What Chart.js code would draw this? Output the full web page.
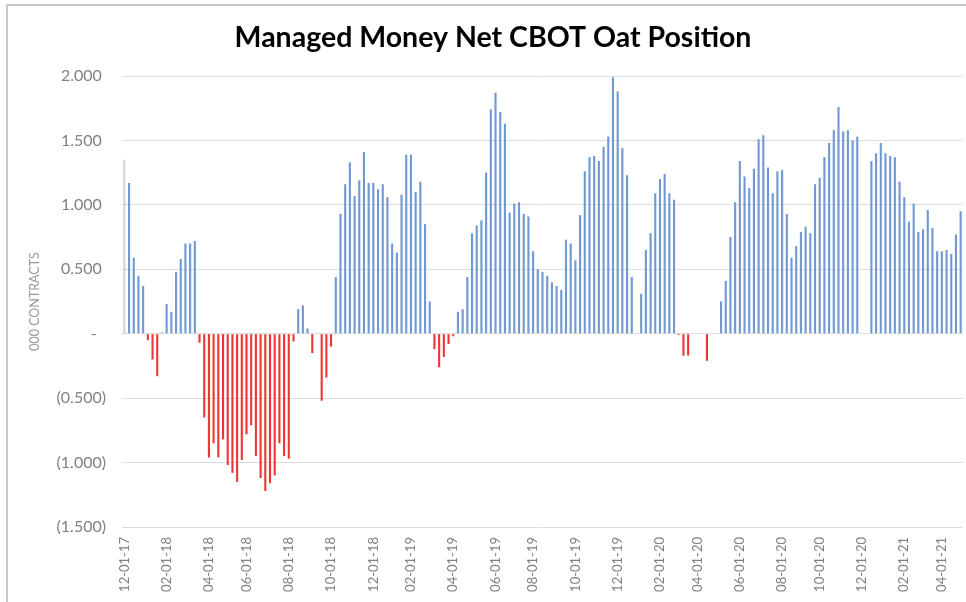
<!DOCTYPE html>
<html>
<head>
<meta charset="utf-8">
<title>Managed Money Net CBOT Oat Position</title>
<script src="https://cdn.jsdelivr.net/npm/chart.js@4/dist/chart.umd.min.js"></script>
<style>
  html, body { margin: 0; padding: 0; background: #fff; overflow: hidden; }
  #frame { position: absolute; left: 6px; top: 4px; width: 1000px; height: 700px; border: 2px solid #c8c8c8; box-sizing: border-box; }
  #wrap { position: absolute; left: 0; top: 0; width: 966px; height: 602px; }
</style>
</head>
<body>
<div id="frame"></div>
<div id="wrap"><canvas id="oatChart"></canvas></div>
<script>
// weekly COT report, net managed money position (000 contracts)
const firstWeek = new Date(2017, 10, 28);

const netPosition = [
  1.35, 1.17, 0.59, 0.45, 0.37, -0.05, -0.20, -0.33, 0.01, 0.23,
  0.17, 0.48, 0.58, 0.70, 0.70, 0.72, -0.07, -0.65, -0.96, -0.85,
  -0.96, -0.82, -1.02, -1.08, -1.15, -0.98, -0.78, -0.71, -0.95, -1.12,
  -1.22, -1.16, -1.10, -0.85, -0.95, -0.97, -0.06, 0.19, 0.22, 0.04,
  -0.15, null, -0.52, -0.34, -0.10, 0.44, 0.93, 1.16, 1.33, 1.07,
  1.19, 1.41, 1.17, 1.17, 1.12, 1.16, 1.06, 0.70, 0.63, 1.08,
  1.39, 1.39, 1.10, 1.18, 0.85, 0.25, -0.12, -0.26, -0.18, -0.08,
  -0.02, 0.17, 0.19, 0.44, 0.78, 0.84, 0.88, 1.25, 1.74, 1.87,
  1.72, 1.63, 0.94, 1.01, 1.02, 0.93, 0.91, 0.64, 0.50, 0.48,
  0.45, 0.40, 0.37, 0.34, 0.73, 0.70, 0.57, 0.92, 1.26, 1.37,
  1.38, 1.34, 1.45, 1.53, 1.99, 1.88, 1.44, 1.23, 0.44, null,
  0.31, 0.65, 0.78, 1.09, 1.20, 1.24, 1.09, 1.04, -0.01, -0.17,
  -0.17, null, null, null, -0.21, null, null, 0.25, 0.41, 0.75,
  1.02, 1.34, 1.22, 1.13, 1.28, 1.51, 1.54, 1.29, 1.09, 1.26,
  1.27, 0.93, 0.59, 0.68, 0.79, 0.83, 0.78, 1.16, 1.21, 1.37,
  1.48, 1.58, 1.76, 1.57, 1.58, 1.50, 1.53, null, null, 1.34,
  1.40, 1.48, 1.40, 1.38, 1.37, 1.18, 1.06, 0.87, 1.01, 0.79,
  0.81, 0.96, 0.82, 0.64, 0.64, 0.65, 0.62, 0.77, 0.95
];

const tickLabels = [
  '12-01-17', '02-01-18', '04-01-18', '06-01-18', '08-01-18', '10-01-18',
  '12-01-18', '02-01-19', '04-01-19', '06-01-19', '08-01-19', '10-01-19',
  '12-01-19', '02-01-20', '04-01-20', '06-01-20', '08-01-20', '10-01-20',
  '12-01-20', '02-01-21', '04-01-21'
];

const pad = n => String(n).padStart(2, '0');
const fmtDate = d => pad(d.getMonth() + 1) + '-' + pad(d.getDate()) + '-' + pad(d.getFullYear() % 100);

const weeks = netPosition.map((v, i) => {
  const d = new Date(firstWeek);
  d.setDate(d.getDate() + 7 * i);
  return fmtDate(d);
});

// put each month label on the nearest week
const labelAt = {};
tickLabels.forEach(t => {
  const [m, d, y] = t.split('-').map(Number);
  const dt = new Date(2000 + y, m - 1, d);
  const idx = Math.round((dt - firstWeek) / (7 * 864e5));
  labelAt[idx] = t;
});

const BLUE = '#7098d2';
const RED = '#ee3535';

new Chart(document.getElementById('oatChart'), {
  type: 'bar',
  data: {
    labels: weeks,
    datasets: [{
      data: netPosition,
      backgroundColor: ctx => ctx.dataIndex === 0 ? 'rgba(205,190,180,0.7)' : (ctx.raw < 0 ? RED : BLUE),
      categoryPercentage: 1,
      barPercentage: 0.45,
      borderWidth: 0
    }]
  },
  options: {
    responsive: true,
    maintainAspectRatio: false,
    animation: false,
    layout: { padding: { left: 23, right: 3, top: 0, bottom: 0 } },
    plugins: {
      legend: { display: false },
      tooltip: { enabled: false },
      title: {
        display: true,
        text: 'Managed Money Net CBOT Oat Position',
        color: '#000',
        font: { family: 'Lato', size: 28.5, weight: 'bold' },
        padding: { top: 21, bottom: 20.8 }
      }
    },
    scales: {
      x: {
        grid: { display: false, drawTicks: false },
        border: { display: false },
        afterFit: s => { s.height = 75; s.paddingLeft = 0; s.paddingRight = 0; },
        ticks: {
          autoSkip: false,
          maxRotation: 90,
          minRotation: 90,
          padding: 10,
          color: '#808080',
          font: { family: 'Lato', size: 13 },
          callback: (v, i) => labelAt[i] || ''
        }
      },
      y: {
        min: -1.5,
        max: 2,
        afterFit: s => { s.width = 99; },
        grid: { color: '#dcdcdc', drawTicks: false },
        border: { display: false },
        title: {
          display: true,
          text: '000 CONTRACTS',
          color: '#9a9a9a',
          font: { family: 'Lato', size: 12.5 },
          padding: { top: 4, bottom: 0 }
        },
        ticks: {
          stepSize: 0.5,
          padding: 16,
          color: '#808080',
          font: { family: 'Lato', size: 16 },
          callback: v => {
            if (Math.abs(v) < 1e-9) return '-\u2007';
            if (v < 0) return '(' + Math.abs(v).toFixed(3) + ')';
            return v.toFixed(3) + ' ';
          }
        }
      }
    }
  }
});
</script>
</body>
</html>
